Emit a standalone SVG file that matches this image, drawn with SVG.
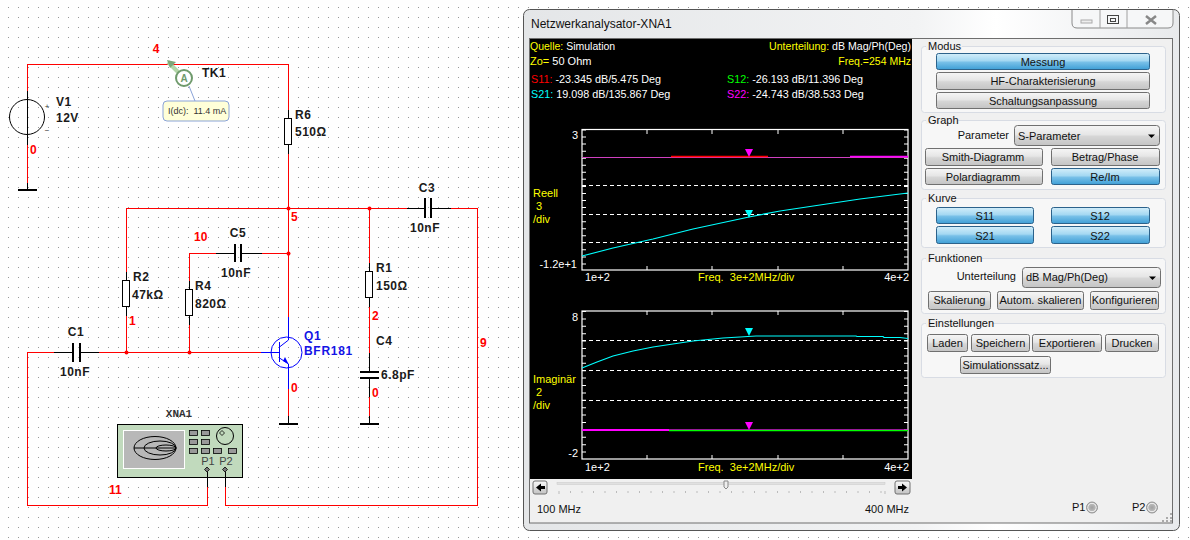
<svg xmlns="http://www.w3.org/2000/svg" width="1190" height="540" viewBox="0 0 1190 540">
<defs>
<pattern id="grid" width="10" height="10" patternUnits="userSpaceOnUse" x="8" y="7"><rect width="1" height="1" fill="#999"/></pattern>
<linearGradient id="gb" x1="0" y1="0" x2="0" y2="1"><stop offset="0" stop-color="#f6f6f6"/><stop offset="0.45" stop-color="#e6e6e6"/><stop offset="0.55" stop-color="#d6d6d6"/><stop offset="1" stop-color="#c4c4c4"/></linearGradient>
<linearGradient id="bb" x1="0" y1="0" x2="0" y2="1"><stop offset="0" stop-color="#d3eefa"/><stop offset="0.45" stop-color="#a4d8f2"/><stop offset="0.55" stop-color="#78c0e8"/><stop offset="1" stop-color="#3f9fd6"/></linearGradient>
<linearGradient id="tb" x1="0" y1="0" x2="1" y2="0"><stop offset="0" stop-color="#e4e6e8"/><stop offset="0.6" stop-color="#f2f3f4"/><stop offset="0.72" stop-color="#ffffff"/><stop offset="1" stop-color="#e8eaec"/></linearGradient>
<radialGradient id="led"><stop offset="0" stop-color="#a0a0a0"/><stop offset="0.6" stop-color="#b8b8b8"/><stop offset="0.75" stop-color="#f0f0f0"/><stop offset="1" stop-color="#9a9a9a"/></radialGradient>
</defs>
<style>
text{font-family:"Liberation Sans",Arial,sans-serif}
.w{fill:none;stroke:#f00;stroke-width:1;shape-rendering:crispEdges}
.k{fill:none;stroke:#000;stroke-width:1;shape-rendering:crispEdges}
.p{fill:none;stroke:#000;stroke-width:2;shape-rendering:crispEdges}
.g{fill:none;stroke:#000;stroke-width:2;shape-rendering:crispEdges}
.b{fill:none;stroke:#00f;stroke-width:1}
.r{fill:#fff;stroke:#000;stroke-width:1}
.dot{fill:#f00}
.n{font-size:12px;font-weight:bold;fill:#f00}
.l{font-size:12px;font-weight:bold;fill:#1a1a1a;letter-spacing:.5px}
.lb{font-size:12px;font-weight:bold;fill:#1414e6;letter-spacing:.7px}
.y{fill:#ff0;font-size:11px}
.wt{fill:#fff;font-size:11px}
.btn{fill:url(#gb);stroke:#707070;stroke-width:1}
.bbtn{fill:url(#bb);stroke:#2c628b;stroke-width:1}
.t{font-size:11px;fill:#111}
.c{text-anchor:middle}
.e{text-anchor:end}
.fs{fill:#f7f7f7;stroke:#d8dce4;stroke-width:1}
.dash{stroke:#fff;stroke-width:1;stroke-dasharray:4 3;fill:none}
.fr{fill:#000;stroke:#fff;stroke-width:1.2}
.tick{stroke:#fff;stroke-width:1;fill:none}
</style>
<rect width="1190" height="540" fill="#fff"/>
<rect width="1190" height="540" fill="url(#grid)"/>

<g id="connectors">
<path class="w" d="M27 91V64H288V110"/>
<path class="w" d="M27 145V183"/>
<path class="w" d="M288 154V317"/>
<path class="w" d="M126 208H407M451 208H477V505H225V487"/>
<path class="w" d="M126 208V272M126 316V352"/>
<path class="w" d="M54 352H27V505H207V487"/>
<path class="w" d="M99 352H261"/>
<path class="w" d="M189 352V325M189 281V253H216M262 253H288"/>
<path class="w" d="M369 208V263M369 307V353M369 397V416"/>
<path class="w" d="M288 389V416"/>
<circle class="dot" cx="288.500" cy="208.500" r="2"/><circle class="dot" cx="288.500" cy="253.500" r="2"/><circle class="dot" cx="126.500" cy="352.500" r="2"/><circle class="dot" cx="189.500" cy="352.500" r="2"/><circle class="dot" cx="369.500" cy="208.500" r="2"/>
</g>

<g id="nets">
<text class="n c" x="156" y="53">4</text>
<text class="n" x="30" y="154">0</text>
<text class="n" x="291" y="221">5</text>
<text class="n" x="194" y="241">10</text>
<text class="n" x="129" y="325">1</text>
<text class="n" x="372" y="320">2</text>
<text class="n" x="372" y="397">0</text>
<text class="n" x="291" y="392">0</text>
<text class="n" x="480" y="347">9</text>
<text class="n" x="109" y="494">11</text>
</g>

<g id="V1">
<path class="k" d="M27 91V145"/><circle cx="27" cy="117" r="17.500" fill="none" stroke="#000"/>
<text x="47" y="109" font-size="8" fill="#333" text-anchor="middle">+</text><text x="47" y="133" font-size="8" fill="#333" text-anchor="middle">−</text>
<text class="l" x="56" y="106">V1</text><text class="l" x="56" y="122">12V</text>
</g>
<g id="GND1"><path class="k" d="M27 183V190"/><path class="g" d="M18 190H37"/></g>
<g id="GND2"><path class="k" d="M288 416V424"/><path class="g" d="M279 424H298"/></g>
<g id="GND3"><path class="k" d="M369 416V424"/><path class="g" d="M360 424H379"/></g>

<g id="TK1">
<path d="M168 62L184 78" stroke="#b3d6a8" stroke-width="4" fill="none"/><path d="M167 60L176 62L170 68Z" fill="#7da678"/>
<path d="M189 86L195 101" stroke="#8aa3d8" fill="none"/>
<circle cx="184" cy="78" r="8" fill="#fff" stroke="#6f9a6c" stroke-width="2"/>
<text x="184" y="82" font-size="10" font-weight="bold" fill="#6f9a6c" text-anchor="middle">A</text>
<text class="l" x="202" y="77" fill="#102030">TK1</text>
<rect x="163" y="101" width="66" height="20" rx="4" fill="#ffffd8" stroke="#8aa3d8"/>
<text x="168" y="114" font-size="9" fill="#333" xml:space="preserve">I(dc):  11.4 mA</text>
</g>

<g id="R6"><path class="k" d="M288 110V118M288 144V154"/><rect class="r" x="284.500" y="118.500" width="7" height="26"/><text class="l" x="295" y="119">R6</text><text class="l" x="295" y="136">510Ω</text></g>
<g id="R2"><path class="k" d="M126 272V280M126 307V316"/><rect class="r" x="122.500" y="280.500" width="7" height="26"/><text class="l" x="133" y="281">R2</text><text class="l" x="132" y="299">47kΩ</text></g>
<g id="R4"><path class="k" d="M189 281V289M189 315V325"/><rect class="r" x="185.500" y="289.500" width="7" height="26"/><text class="l" x="195" y="290">R4</text><text class="l" x="195" y="308">820Ω</text></g>
<g id="R1"><path class="k" d="M369 263V271M369 297V307"/><rect class="r" x="365.500" y="271.500" width="7" height="26"/><text class="l" x="376" y="272">R1</text><text class="l" x="376" y="290">150Ω</text></g>
<g id="C1"><path class="k" d="M54 352H73M80 352H99"/><path class="p" d="M73 343V362M80 343V362"/><text class="l c" x="76" y="336">C1</text><text class="l c" x="75" y="376">10nF</text></g>
<g id="C5"><path class="k" d="M216 253H235M241 253H262"/><path class="p" d="M235 244V262M241 244V262"/><text class="l c" x="238" y="237">C5</text><text class="l c" x="236" y="277">10nF</text></g>
<g id="C3"><path class="k" d="M407 208H425M431 208H451"/><path class="p" d="M425 198V218M431 198V218"/><text class="l c" x="427" y="192">C3</text><text class="l c" x="425" y="232">10nF</text></g>
<g id="C4"><path class="k" d="M369 353V372M369 378V397"/><path class="p" d="M360 372H379M360 378H379"/><text class="l" x="376" y="345">C4</text><text class="l" x="381" y="379">6.8pF</text></g>

<g id="Q1">
<circle class="b" cx="286.500" cy="352.500" r="15.500"/>
<path class="b" d="M261 352.500H279.500M279.500 342V362M279.500 347L288.500 340V317M279.500 358L288.500 364V389"/>
<path d="M283 361L288.500 364L285 357Z" fill="#00f"/>
<text class="lb" x="304" y="340">Q1</text><text class="lb" x="304" y="355">BFR181</text>
</g>

<g id="XNA1">
<text x="179" y="417" font-size="11" font-weight="bold" fill="#333" text-anchor="middle" style="font-family:'Liberation Mono',monospace">XNA1</text>
<rect x="117.500" y="424.500" width="125" height="53" fill="#c1dabd" stroke="#000"/>
<rect x="123.500" y="430.500" width="61" height="38" fill="#b8b8b8" stroke="#fff"/>
<g fill="none" stroke="#000"><ellipse cx="155" cy="448" rx="21" ry="11.500"/><ellipse cx="160" cy="448" rx="16" ry="7"/><ellipse cx="166" cy="448" rx="10" ry="3"/><path d="M134 448H176"/></g>
<g fill="#999" stroke="#000" stroke-width="0.8"><rect x="189.500" y="430.500" width="8" height="5"/><rect x="201.500" y="430.500" width="8" height="5"/><rect x="189.500" y="439.500" width="8" height="5"/><rect x="201.500" y="439.500" width="8" height="5"/><rect x="189.500" y="448.500" width="8" height="5"/><rect x="201.500" y="448.500" width="8" height="5"/><rect x="213.500" y="448.500" width="8" height="5"/><rect x="228.500" y="448.500" width="8" height="5"/></g>
<circle cx="225" cy="436" r="8.500" fill="none" stroke="#000"/><path d="M222 430.500L224.500 433L222 435.500L219.500 433Z" fill="none" stroke="#000" stroke-width="0.8"/>
<text x="208" y="465" font-size="11" fill="#444" text-anchor="middle">P1</text><text x="226" y="465" font-size="11" fill="#444" text-anchor="middle">P2</text>
<path d="M207 467L209.500 469.500L207 472L204.500 469.500Z M225 467L227.500 469.500L225 472L222.500 469.500Z" fill="#777" stroke="#000" stroke-width="0.8"/>
<path class="k" d="M207 472V487M225 472V487"/>
</g>

<g id="window">
<rect x="523.500" y="9.500" width="656" height="521" rx="6" fill="url(#tb)" stroke="#555"/>
<rect x="529.500" y="38.500" width="643" height="484.500" fill="#f0f0f0" stroke="#6e6e6e"/>
<text x="531" y="28" font-size="12" fill="#111">Netzwerkanalysator-XNA1</text>
<path d="M1072 10V23Q1072 28 1077 28H1168Q1173 28 1173 23V10" fill="#f6f7f8" stroke="#8a8a8a"/>
<path d="M1100 10V28M1127 10V28" stroke="#a0a0a0"/>
<rect x="1081" y="20" width="11" height="3" fill="#eee" stroke="#aaa"/>
<rect x="1107.500" y="15.500" width="11" height="8" fill="none" stroke="#444"/><rect x="1110.500" y="18.500" width="5" height="3" fill="none" stroke="#444"/>
<path d="M1146 16L1156 24M1156 16L1146 24" stroke="#888" stroke-width="2.500" fill="none"/>
</g>

<g id="display">
<rect x="530" y="39" width="382" height="440" fill="#000"/>
<text class="y" x="530" y="50" style="font-size:10.500px">Quelle: <tspan fill="#fff">Simulation</tspan></text>
<text class="y e" x="911" y="50" style="font-size:10.600px">Unterteilung: <tspan fill="#fff">dB Mag/Ph(Deg)</tspan></text>
<text class="y" x="530" y="65">Zo= <tspan fill="#fff">50 Ohm</tspan></text>
<text class="y e" x="911" y="65" style="font-size:10.500px">Freq.=254 MHz</text>
<text x="531" y="83" font-size="10.800" fill="#f00">S11: <tspan fill="#fff">-23.345 dB/5.475 Deg</tspan></text>
<text x="531" y="98" font-size="10.800" fill="#0ff">S21: <tspan fill="#fff">19.098 dB/135.867 Deg</tspan></text>
<text x="727" y="83" font-size="10.800" fill="#0f0">S12: <tspan fill="#fff">-26.193 dB/11.396 Deg</tspan></text>
<text x="727" y="98" font-size="10.800" fill="#f0f">S22: <tspan fill="#fff">-24.743 dB/38.533 Deg</tspan></text>
</g>

<g id="plot1">
<rect class="fr" x="582" y="129.500" width="326" height="140.500"/>
<path class="tick" d="M647 130V134M712 130V134M778 130V134M843 130V134M647 270V266M712 270V266M778 270V266M843 270V266"/>
<path d="M584 129.500V270M906 129.500V270" stroke="#fff" stroke-width="4" stroke-dasharray="1 6.050" fill="none"/>
<path class="dash" d="M582 185.500H908M582 214.500H908M582 242.500H908"/>
<path d="M582 157.500H908" stroke="#d040c0" stroke-width="1"/>
<path d="M671 156.500H768" stroke="#f00" stroke-width="1.500"/>
<path d="M850 156.500H908" stroke="#f0f" stroke-width="1.500"/>
<polyline points="582,256 613,248 653,239 693,229 749,217 780,211 820,205 860,199 908,193" fill="none" stroke="#0ff" stroke-width="1.200"/>
<path d="M745 149H753L749 157Z" fill="#f0f"/><path d="M745 210H753L749 218Z" fill="#0ff"/>
<text class="wt e" x="578" y="139">3</text><text class="wt e" x="577" y="268">-1.2e+1</text>
<text class="y" x="533" y="197">Reell</text><text class="y" x="536" y="210">3</text><text class="y" x="533" y="223">/div</text>
<text class="wt" x="585" y="281">1e+2</text><text class="y" x="698" y="281" xml:space="preserve">Freq.  3e+2MHz/div</text><text class="wt e" x="909" y="281">4e+2</text>
</g>

<g id="plot2">
<rect class="fr" x="582" y="311" width="326" height="148"/>
<path class="tick" d="M647 311V315M712 311V315M778 311V315M843 311V315M647 459V455M712 459V455M778 459V455M843 459V455"/>
<path d="M584 311V459M906 311V459" stroke="#fff" stroke-width="4" stroke-dasharray="1 6.400" fill="none"/>
<path class="dash" d="M582 340.500H908M582 370.500H908M582 400.500H908"/>
<polyline points="582,368 597,362 613,356 633,351 653,347 673,344 693,341 723,338 740,337 756,336 856,336 857,336.500 883,336.500 884,337.500 900,337.500 908,338.500" fill="none" stroke="#0ff" stroke-width="1.200"/>
<path d="M582 430H669" stroke="#f0f" stroke-width="2"/><path d="M669 430.500H908" stroke="#0f0" stroke-width="1.500"/><path d="M582 429.500H908" stroke="#f0f" stroke-width="0.600"/>
<path d="M745 328H753L749 336Z" fill="#0ff"/><path d="M745 422H753L749 430Z" fill="#f0f"/>
<text class="wt e" x="578" y="321">8</text><text class="wt e" x="578" y="457">-2</text>
<text class="y" x="533" y="383">Imaginär</text><text class="y" x="536" y="396">2</text><text class="y" x="533" y="409">/div</text>
<text class="wt" x="585" y="471">1e+2</text><text class="y" x="698" y="471" xml:space="preserve">Freq.  3e+2MHz/div</text><text class="wt e" x="909" y="471">4e+2</text>
</g>

<g id="scroll">
<rect class="btn" x="533" y="481" width="14" height="13" rx="2"/><path d="M536 487.500L541 483.500V486H545V489H541V491.500Z" fill="#000"/>
<rect class="btn" x="895" y="481" width="15" height="13" rx="2"/><path d="M907 487.500L902 483.500V486H898V489H902V491.500Z" fill="#000"/>
<rect x="557" y="482.500" width="328" height="2" fill="#e0e0e0" stroke="#c8c8c8" stroke-width="0.500"/>
<path d="M724 481H728V487L726 489L724 487Z" fill="#eee" stroke="#888"/>
<path d="M559 491V494M885 491V494" stroke="#bbb"/>
<path d="M570 492H884" stroke="#bbb" stroke-width="2" stroke-dasharray="1 10.500"/>
<text class="t" x="537" y="513">100 MHz</text><text class="t e" x="909" y="513">400 MHz</text>
</g>

<g id="modus">
<rect class="fs" x="921.500" y="46.500" width="244" height="66" rx="3"/><rect x="926" y="42" width="36" height="8" fill="#f0f0f0"/>
<text class="t" x="928" y="50">Modus</text>
<rect class="bbtn" x="936.500" y="53.500" width="213" height="16" rx="2"/><text class="t c" x="1043" y="66">Messung</text>
<rect class="btn" x="936.500" y="72.500" width="213" height="17" rx="2"/><text class="t c" x="1043" y="85">HF-Charakterisierung</text>
<rect class="btn" x="936.500" y="92.500" width="213" height="16" rx="2"/><text class="t c" x="1043" y="105">Schaltungsanpassung</text>
</g>
<g id="graph">
<rect class="fs" x="921.500" y="120.500" width="244" height="69" rx="3"/><rect x="926" y="116" width="32" height="8" fill="#f0f0f0"/>
<text class="t" x="928" y="124">Graph</text>
<text class="t e" x="1009" y="139">Parameter</text>
<rect class="btn" x="1014.500" y="125.500" width="145" height="20" rx="3"/><text class="t" x="1018" y="140">S-Parameter</text><path d="M1148 134.500H1155L1151.500 138Z" fill="#000"/>
<rect class="btn" x="925.500" y="148.500" width="117" height="17" rx="2"/><text class="t c" x="983" y="161">Smith-Diagramm</text>
<rect class="btn" x="1051.500" y="148.500" width="108" height="17" rx="2"/><text class="t c" x="1105" y="161">Betrag/Phase</text>
<rect class="btn" x="925.500" y="168.500" width="117" height="16" rx="2"/><text class="t c" x="983" y="181">Polardiagramm</text>
<rect class="bbtn" x="1051.500" y="168.500" width="108" height="16" rx="2"/><text class="t c" x="1105" y="181">Re/Im</text>
</g>
<g id="kurve">
<rect class="fs" x="921.500" y="198.500" width="244" height="49" rx="3"/><rect x="926" y="194" width="30" height="8" fill="#f0f0f0"/>
<text class="t" x="928" y="202">Kurve</text>
<rect class="bbtn" x="936.500" y="207.500" width="97" height="16" rx="2"/><text class="t c" x="985" y="220">S11</text>
<rect class="bbtn" x="1051.500" y="207.500" width="98" height="16" rx="2"/><text class="t c" x="1100" y="220">S12</text>
<rect class="bbtn" x="936.500" y="226.500" width="97" height="17" rx="2"/><text class="t c" x="985" y="240">S21</text>
<rect class="bbtn" x="1051.500" y="226.500" width="98" height="17" rx="2"/><text class="t c" x="1100" y="240">S22</text>
</g>
<g id="funktionen">
<rect class="fs" x="921.500" y="258.500" width="244" height="55" rx="3"/><rect x="926" y="254" width="56" height="8" fill="#f0f0f0"/>
<text class="t" x="928" y="262">Funktionen</text>
<text class="t e" x="1016" y="280">Unterteilung</text>
<rect class="btn" x="1022.500" y="267.500" width="138" height="20" rx="3"/><text class="t" x="1026" y="281">dB Mag/Ph(Deg)</text><path d="M1149 276.500H1156L1152.500 280Z" fill="#000"/>
<rect class="btn" x="928.500" y="291.500" width="62" height="18" rx="2"/><text class="t c" x="959.500" y="304">Skalierung</text>
<rect class="btn" x="997.500" y="291.500" width="86" height="18" rx="2"/><text class="t c" x="1040.500" y="304">Autom. skalieren</text>
<rect class="btn" x="1090.500" y="291.500" width="68" height="18" rx="2"/><text class="t c" x="1124.500" y="304">Konfigurieren</text>
</g>
<g id="einstellungen">
<rect class="fs" x="921.500" y="323.500" width="244" height="54" rx="3"/><rect x="926" y="319" width="66" height="8" fill="#f0f0f0"/>
<text class="t" x="928" y="327">Einstellungen</text>
<rect class="btn" x="927.500" y="334.500" width="40" height="17" rx="2"/><text class="t c" x="947.500" y="347">Laden</text>
<rect class="btn" x="971.500" y="334.500" width="58" height="17" rx="2"/><text class="t c" x="1000.500" y="347">Speichern</text>
<rect class="btn" x="1032.500" y="334.500" width="69" height="17" rx="2"/><text class="t c" x="1067" y="347">Exportieren</text>
<rect class="btn" x="1105.500" y="334.500" width="53" height="17" rx="2"/><text class="t c" x="1132" y="347">Drucken</text>
<rect class="btn" x="960.500" y="356.500" width="90" height="17" rx="2"/><text class="t c" x="1005.500" y="369">Simulationssatz...</text>
</g>
<g id="ports">
<text class="t" x="1072" y="511">P1</text><circle cx="1092" cy="507.500" r="5.500" fill="url(#led)" stroke="#999"/>
<text class="t" x="1132" y="511">P2</text><circle cx="1152" cy="507.500" r="5.500" fill="url(#led)" stroke="#999"/>
<path d="M1170 513h2v2h-2zM1166 517h2v2h-2zM1170 517h2v2h-2zM1162 520h2v2h-2zM1166 520h2v2h-2zM1170 520h2v2h-2z" fill="#aaa"/>
</g>
</svg>
